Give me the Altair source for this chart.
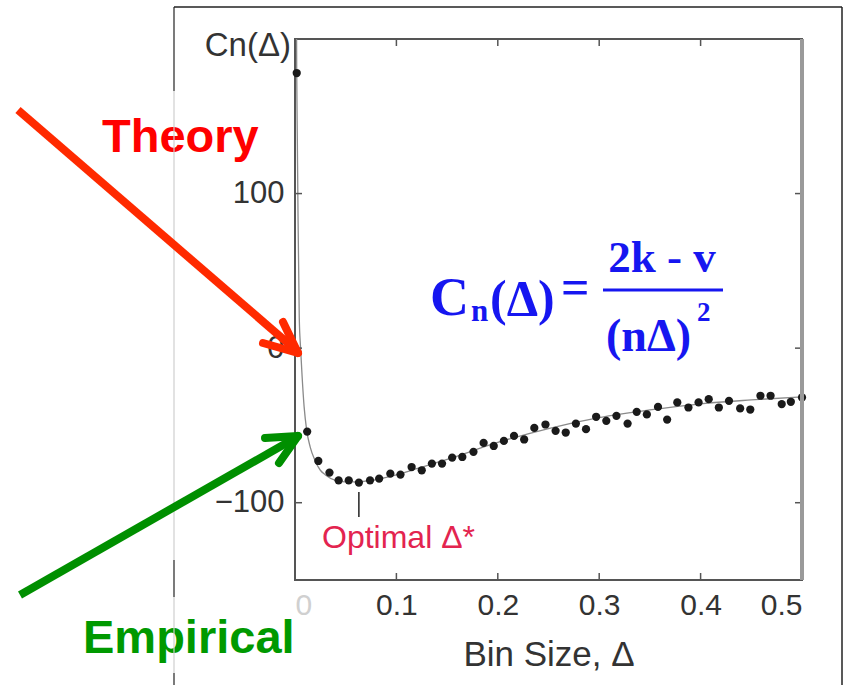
import altair as alt
import pandas as pd

# ---------------- data ----------------
# Empirical cost function C_n(Δ) (black dots)
emp_delta = [0.0017, 0.012, 0.023, 0.034, 0.043, 0.053, 0.063, 0.074, 0.083, 0.094,
             0.104, 0.115, 0.125, 0.135, 0.145, 0.155, 0.165, 0.176, 0.186, 0.196,
             0.206, 0.216, 0.226, 0.236, 0.247, 0.257, 0.267, 0.277, 0.287, 0.297,
             0.307, 0.317, 0.328, 0.337, 0.347, 0.358, 0.367, 0.377, 0.388, 0.398,
             0.408, 0.418, 0.428, 0.439, 0.449, 0.459, 0.469, 0.480, 0.489, 0.500]
emp_cost = [178, -54, -73, -80.5, -85.5, -85.5, -87, -85.5, -84.4, -81.2,
            -81.8, -76.9, -79, -74.7, -74.7, -70.8, -70.4, -67.1, -61.3, -63.3,
            -60, -56.8, -59.1, -51.6, -49.4, -53.5, -54.6, -48.8, -52.4, -44.4,
            -47, -43.8, -48.8, -41.2, -42.9, -38, -46.2, -35.1, -38.4, -35.1,
            -33, -38.4, -34.1, -39, -39.7, -30.8, -30.8, -36.2, -34.7, -31.9]

# Theoretical cost function (thin grey curve)
theory_delta = [0.0012, 0.0017, 0.0023, 0.003, 0.0042, 0.0055, 0.0069, 0.009, 0.0115,
                0.015, 0.02, 0.025, 0.03, 0.04, 0.05, 0.06, 0.07, 0.08, 0.1, 0.12,
                0.15, 0.2, 0.25, 0.3, 0.35, 0.4, 0.45, 0.5]
theory_cost = [260, 178, 135, 85, 20, 0, -17, -38, -53,
               -64, -73, -79, -82, -85.5, -86.5, -86.5, -86, -85, -82, -78,
               -72, -61, -52, -45, -40, -36, -33.5, -31.5]

x_ticks = [0, 0.1, 0.2, 0.3, 0.4, 0.5]
x_inner_ticks = [0.1, 0.2, 0.3, 0.4]
y_ticks = [-100, 0, 100]
optimal_delta = 0.063

# ---------------- geometry ----------------
W, H = 507, 541          # plot area
OX, OY = 295, 39         # plot origin on the page
TICK = 7

xs = alt.Scale(domain=[0, 0.5], nice=False, zero=False)
ys = alt.Scale(domain=[-150, 200], nice=False, zero=False)

emp_df = pd.DataFrame({"delta": emp_delta, "cost": emp_cost})
th_df = pd.DataFrame({"delta": theory_delta, "cost": theory_cost})
xt_df = pd.DataFrame({"v": x_inner_ticks})
yt_df = pd.DataFrame({"v": y_ticks})

ONE = alt.Data(values=[{"a": 1}])

axis_x = alt.Axis(values=x_ticks, labelExpr="datum.value == 0 ? '0' : format(datum.value, '.1f')",
                  ticks=False, tickSize=0, domain=False, grid=False, labelPadding=10,
                  labelFontSize=30, labelFont="Liberation Sans",
                  labelColor={"condition": {"test": "datum.value == 0", "value": "#d0d0d0"},
                              "value": "#333333"},
                  title=None)
axis_y = alt.Axis(values=y_ticks,
                  labelExpr="datum.value < 0 ? '\u2212' + abs(datum.value) : '' + datum.value",
                  ticks=False, tickSize=0,
                  domain=False, grid=False, labelPadding=11, labelFontSize=31,
                  labelFont="Liberation Sans", labelColor="#333333", title=None)

theory = alt.Chart(th_df).mark_line(color="#8a8a8a", strokeWidth=1.3, clip=True,
                                    interpolate="monotone").encode(
    x=alt.X("delta:Q", scale=xs, axis=axis_x),
    y=alt.Y("cost:Q", scale=ys, axis=axis_y),
)

dots = alt.Chart(emp_df).mark_circle(size=68, color="#1a1a1a", opacity=1).encode(
    x=alt.X("delta:Q", scale=xs),
    y=alt.Y("cost:Q", scale=ys),
)

TC = "#555555"
tick_bottom = alt.Chart(xt_df).mark_rule(color=TC, strokeWidth=1.5).encode(
    x=alt.X("v:Q", scale=xs), y=alt.value(H), y2=alt.value(H - TICK))
tick_top = alt.Chart(xt_df).mark_rule(color=TC, strokeWidth=1.5).encode(
    x=alt.X("v:Q", scale=xs), y=alt.value(0), y2=alt.value(TICK))
tick_left = alt.Chart(yt_df).mark_rule(color=TC, strokeWidth=1.5).encode(
    y=alt.Y("v:Q", scale=ys), x=alt.value(0), x2=alt.value(TICK))
tick_right = alt.Chart(yt_df).mark_rule(color=TC, strokeWidth=1.5).encode(
    y=alt.Y("v:Q", scale=ys), x=alt.value(W), x2=alt.value(W - TICK))

right_border = alt.Chart(ONE).mark_rule(color="#9a9a9a", strokeWidth=4).encode(
    x=alt.value(W), y=alt.value(0), y2=alt.value(H))

opt_tick = alt.Chart(pd.DataFrame({"d": [optimal_delta]})).mark_rule(
    color="#222222", strokeWidth=1.5).encode(
    x=alt.X("d:Q", scale=xs), y=alt.value(492 - OY), y2=alt.value(517 - OY))


def label(text, x, y, size, color, font="Liberation Sans", weight="normal",
          align="left", baseline="alphabetic"):
    return alt.Chart(ONE).mark_text(text=text, fontSize=size, color=color, font=font,
                                    fontWeight=weight, align=align, baseline=baseline).encode(
        x=alt.value(x - OX), y=alt.value(y - OY))


def seg(x1, y1, x2, y2, color, width, cap="butt"):
    return alt.Chart(ONE).mark_rule(color=color, strokeWidth=width, strokeCap=cap).encode(
        x=alt.value(x1 - OX), y=alt.value(y1 - OY),
        x2=alt.value(x2 - OX), y2=alt.value(y2 - OY))


texts = [
    label("Cn(Δ)", 291, 56, 33, "#333333", align="right"),
    label("Optimal Δ*", 322, 548, 32, "#e3244f"),
    label("Bin Size, Δ", 549, 666, 35, "#333333", align="center"),
    label("Theory", 102, 152, 47, "#ff0000", weight="bold"),
    label("Empirical", 83, 653, 47, "#009900", weight="bold"),
]

BLUE = "#1616f0"
SERIF = "Liberation Serif"
formula = [
    label("C", 430, 315, 54, BLUE, font=SERIF, weight="bold"),
    label("n", 471, 321, 31, BLUE, font=SERIF, weight="bold"),
    label("(Δ)", 490, 315, 50, BLUE, font=SERIF, weight="bold"),
    label("=", 561, 304, 50, BLUE, font=SERIF, weight="bold"),
    seg(603, 290, 723, 290, BLUE, 3),
    label("2k - v", 662, 272, 45, BLUE, font=SERIF, weight="bold", align="center"),
    label("(nΔ)", 606, 351, 46, BLUE, font=SERIF, weight="bold"),
    label("2", 697, 321, 27, BLUE, font=SERIF, weight="bold"),
]

RED = "#ff2a00"
GREEN = "#008f00"
arrows = [
    seg(18, 110, 297, 351, RED, 8),
    seg(298, 353, 283, 322, RED, 8, "round"),
    seg(298, 353, 263, 343, RED, 8, "round"),
    seg(20, 595, 297, 437, GREEN, 8),
    seg(298, 436, 265, 438, GREEN, 8, "round"),
    seg(298, 436, 279, 463, GREEN, 8, "round"),
]

frame = [
    seg(174, 7, 842, 7, "#222222", 1.5),
    seg(842, 7, 842, 685, "#222222", 1.5),
    seg(174, 7, 174, 91, "#222222", 1.2),
    seg(174, 91, 174, 560, "#cfcfcf", 1.2),
    seg(174, 560, 174, 597, "#222222", 1.2),
    seg(174, 597, 174, 673, "#cfcfcf", 1.2),
    seg(174, 673, 174, 685, "#222222", 1.2),
]

chart = alt.layer(
    theory, dots, tick_bottom, tick_top, tick_left, tick_right, right_border, opt_tick,
    *texts, *formula, *frame, *arrows
).properties(
    width=W, height=H,
    autosize=alt.AutoSizeParams(type="none"),
    padding={"left": OX, "top": OY, "right": 846 - OX - W, "bottom": 685 - OY - H},
    background="white",
).configure_view(
    stroke="#555555", strokeWidth=2
)

chart.save("out.html", embed_options={"renderer": "svg", "actions": False})
